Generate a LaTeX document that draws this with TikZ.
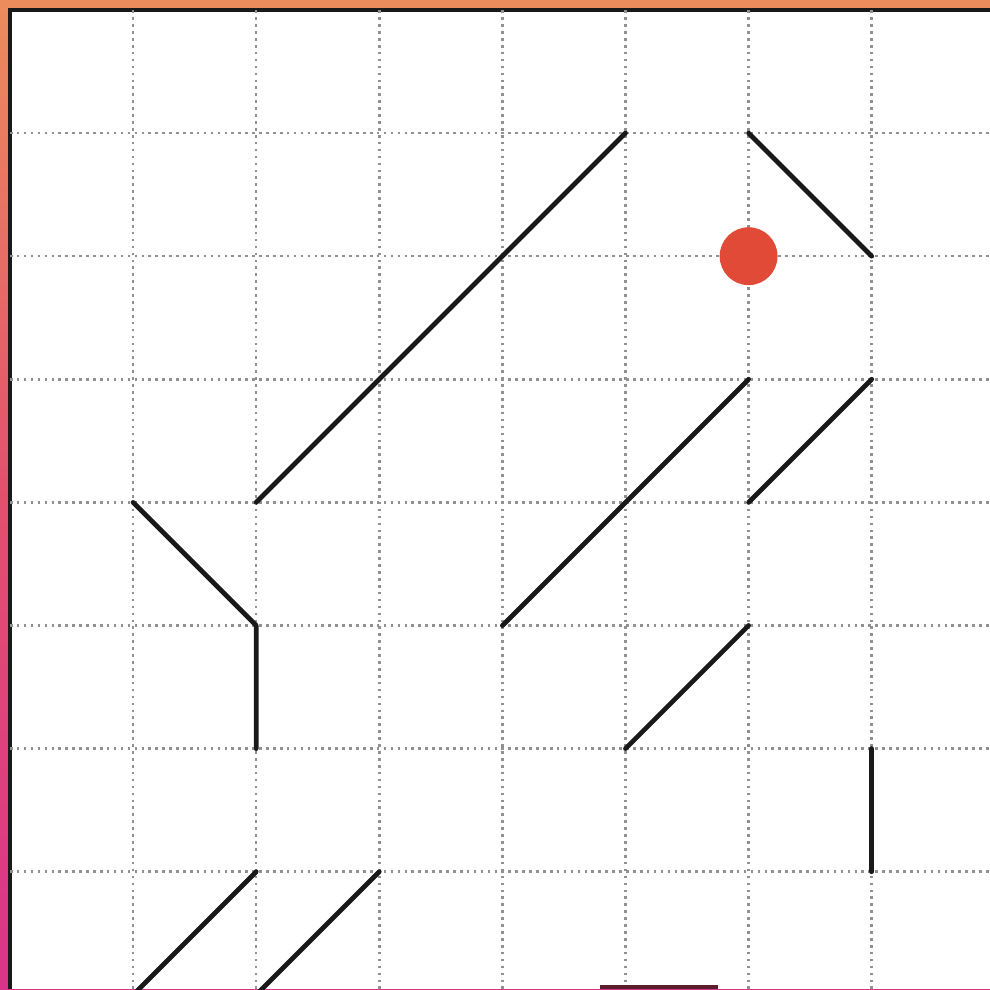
\documentclass[tikz,border=0pt]{standalone}
\usepackage{tikz}
\usetikzlibrary{calc}
\definecolor{FrameOrange}{RGB}{236, 140, 92}
\definecolor{FrameRose}{RGB}{226, 80, 110}
\definecolor{FrameMagenta}{RGB}{218, 52, 138}
\definecolor{DotRed}{RGB}{226, 74, 56}
\definecolor{GridGray}{RGB}{145, 145, 145}
\definecolor{ScanMaroon}{RGB}{90, 30, 45}

\begin{document}
\begin{tikzpicture}[
    x=1cm, y=1cm,
    gridline/.style={GridGray, line width=0.6pt, dash pattern=on 0.6pt off 1pt},
    seg/.style={black!90, line width=1.1pt, line cap=round, line join=round},
    edge/.style={black!90, line width=1pt}
]
% page and coloured border
\useasboundingbox (-0.081,0.047) rectangle (7.961,8.081);
\shade[top color=FrameOrange, bottom color=FrameMagenta, middle color=FrameRose]
    (-0.081,0.047) rectangle (7.961,8.081);
\fill[FrameOrange] (-0.081,8) rectangle (7.961,8.081);
\fill[white] (0,0.047) rectangle (7.961,8);
\draw[edge] (0,0.047) -- (0,8) -- (7.961,8);

% dotted grid
\foreach \k in {1,...,7} {
  \draw[gridline] (\k,0.047) -- (\k,8);
  \draw[gridline] (0,\k) -- (7.961,\k);
}

% segments
\draw[seg] (2,4) -- (5,7);
\draw[seg] (6,7) -- (7,6);
\draw[seg] (4,3) -- (6,5);
\draw[seg] (6,4) -- (7,5);
\draw[seg] (1,4) -- (2,3) -- (2,2);
\draw[seg] (5,2) -- (6,3);
\draw[seg] (7,2) -- (7,1);
\draw[seg] (1,0) -- (2,1);
\draw[seg] (2,0) -- (3,1);

% red dot
\fill[DotRed] (6,6) circle (0.235);

% scan edge
\draw[ScanMaroon, line width=1pt] (4.79,0.065) -- (5.75,0.065);
\end{tikzpicture}
\end{document}
